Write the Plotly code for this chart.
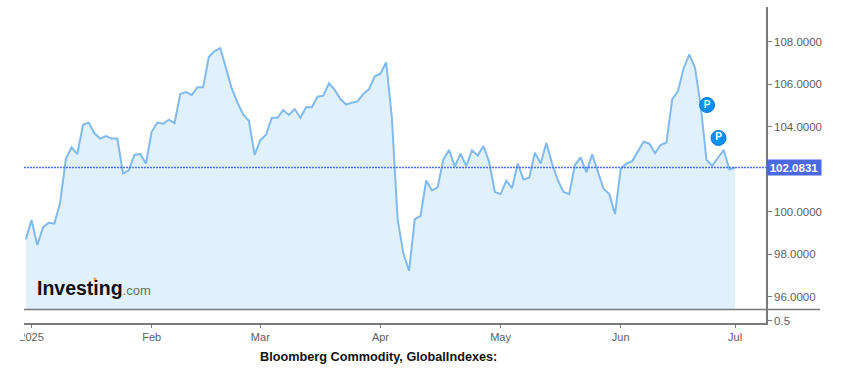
import plotly.graph_objects as go

values = [98.70,99.61,98.43,99.26,99.48,99.44,100.42,102.49,103.03,102.71,104.09,104.19,103.69,103.44,103.56,103.44,103.44,101.80,101.95,102.68,102.71,102.27,103.76,104.19,104.14,104.33,104.17,105.54,105.63,105.49,105.85,105.85,107.29,107.56,107.69,106.75,105.80,105.13,104.58,104.28,102.67,103.37,103.62,104.42,104.42,104.78,104.55,104.83,104.42,104.91,104.91,105.41,105.46,106.04,105.73,105.30,105.04,105.13,105.19,105.54,105.77,106.37,106.49,107.03,104.39,99.65,98.04,97.22,99.65,99.80,101.47,101.00,101.16,102.46,102.90,102.12,102.73,102.15,102.89,102.64,103.09,102.35,100.93,100.83,101.46,101.11,102.27,101.51,101.60,102.78,102.27,103.23,102.27,101.49,100.93,100.83,102.20,102.56,101.85,102.70,101.88,101.08,100.83,99.89,102.01,102.27,102.37,102.82,103.29,103.20,102.75,103.15,103.25,105.29,105.66,106.75,107.40,106.75,104.94,102.43,102.16,102.54,102.90,101.99,102.08]
days = list(range(len(values)))
month_ticks = [1, 22, 41, 62, 83, 104, 124]
month_labels = ["2025", "Feb", "Mar", "Apr", "May", "Jun", "Jul"]
price_ticks = [96, 98, 100, 104, 106, 108]
last_price = 102.0831
event_days = [119.1, 121.1]
event_values = [105.02, 103.47]
event_labels = ["P", "P"]
volume_ticks = [0.5]

W, H = 841, 375
L, R, T, B = 24, 766, 7, 323
SPLIT = 309.5
def px(x): return (x - L) / (R - L)
def py(y): return (B - y) / (B - T)

AX = "#7a7a7a"
TXT = "#5e5e5e"
FONT = "Liberation Sans, Arial, sans-serif"

fig = go.Figure()
fig.add_trace(go.Scatter(x=days, y=values, mode="lines", fill="tozeroy", fillcolor="#e0f1fb",
                         line=dict(color="#80baee", width=2), xaxis="x", yaxis="y", showlegend=False))
fig.add_trace(go.Scatter(x=event_days, y=event_values, mode="markers+text", text=event_labels,
                         textposition="middle center", textfont=dict(color="white", size=10, family=FONT, weight="bold"),
                         marker=dict(color="#0a8ff2", size=15, line=dict(color="#0a78d8", width=1)),
                         xaxis="x", yaxis="y", showlegend=False))
fig.add_trace(go.Scatter(x=[], y=[], xaxis="x2", yaxis="y2", showlegend=False))

fig.update_layout(
    width=W, height=H, autosize=False,
    margin=dict(l=L, r=W - R, t=T, b=H - B),
    paper_bgcolor="white", plot_bgcolor="white",
    font=dict(family=FONT, color=TXT, size=11),
    xaxis=dict(domain=[0, 1], range=[-0.315, 129.4], anchor="y", showgrid=False, zeroline=False,
               showticklabels=False, ticks="", showline=False),
    xaxis2=dict(domain=[0, 1], range=[-0.315, 129.4], anchor="y2", matches="x", showgrid=False, zeroline=False,
                tickmode="array", tickvals=month_ticks, ticktext=month_labels, ticks="outside", ticklen=3,
                tickcolor=AX, showline=True, linecolor=AX, linewidth=1.5,
                tickfont=dict(size=11, color=TXT, family=FONT)),
    yaxis=dict(domain=[py(SPLIT), 1], range=[95.4, 109.63], anchor="x", side="right", showgrid=False, zeroline=False,
               tickmode="array", tickvals=price_ticks, tickformat=".4f", ticks="outside", ticklen=4,
               tickcolor=AX, showline=True, linecolor=AX, linewidth=1.5,
               tickfont=dict(size=11.5, color=TXT, family=FONT)),
    yaxis2=dict(domain=[0, py(SPLIT)], range=[0, 2.7], anchor="x2", side="right", showgrid=False, zeroline=False,
                tickmode="array", tickvals=volume_ticks, ticktext=["0.5"], ticks="outside", ticklen=4,
                tickcolor=AX, showline=True, linecolor=AX, linewidth=1.5,
                tickfont=dict(size=11.5, color=TXT, family=FONT)),
    shapes=[
        dict(type="line", xref="paper", yref="y", x0=0, x1=1, y0=last_price, y1=last_price,
             line=dict(color="#4d74f0", width=1.5, dash="2px,1px")),
        dict(type="line", xref="paper", yref="paper", x0=0, x1=px(820), y0=py(SPLIT), y1=py(SPLIT),
             line=dict(color=AX, width=1.5)),
        dict(type="rect", xref="paper", yref="paper", x0=px(14), x1=px(24), y0=py(340), y1=py(326),
             fillcolor="white", line=dict(width=0), layer="above"),
        dict(type="circle", xref="paper", yref="paper", x0=px(93.5), x1=px(96.5), y0=py(280.5), y1=py(277.5),
             fillcolor="#f5a623", line=dict(width=0), layer="above"),
    ],
    annotations=[
        dict(xref="paper", yref="y", x=1, y=last_price, xanchor="left", yanchor="middle", showarrow=False,
             text="<b>102.0831</b>", bgcolor="#4a69e0", font=dict(color="white", size=11.5, family=FONT),
             width=54, height=15, align="center", borderpad=0),
        dict(xref="paper", yref="paper", x=px(35), y=py(287.5), xanchor="left", yanchor="middle", showarrow=False,
             text='<b>Investing</b><span style="font-size:13px;color:#6b6b6b">.com</span>',
             font=dict(color="#111111", size=19.5, family=FONT)),
        dict(xref="paper", yref="paper", x=px(378.5), y=py(357), xanchor="center", yanchor="middle", showarrow=False,
             text="<b>Bloomberg Commodity, GlobalIndexes:</b>", font=dict(color="#111111", size=12.7, family=FONT)),
    ],
)
fig.write_html("out.html", config=dict(displayModeBar=False), post_script="document.body.style.margin='0';")
